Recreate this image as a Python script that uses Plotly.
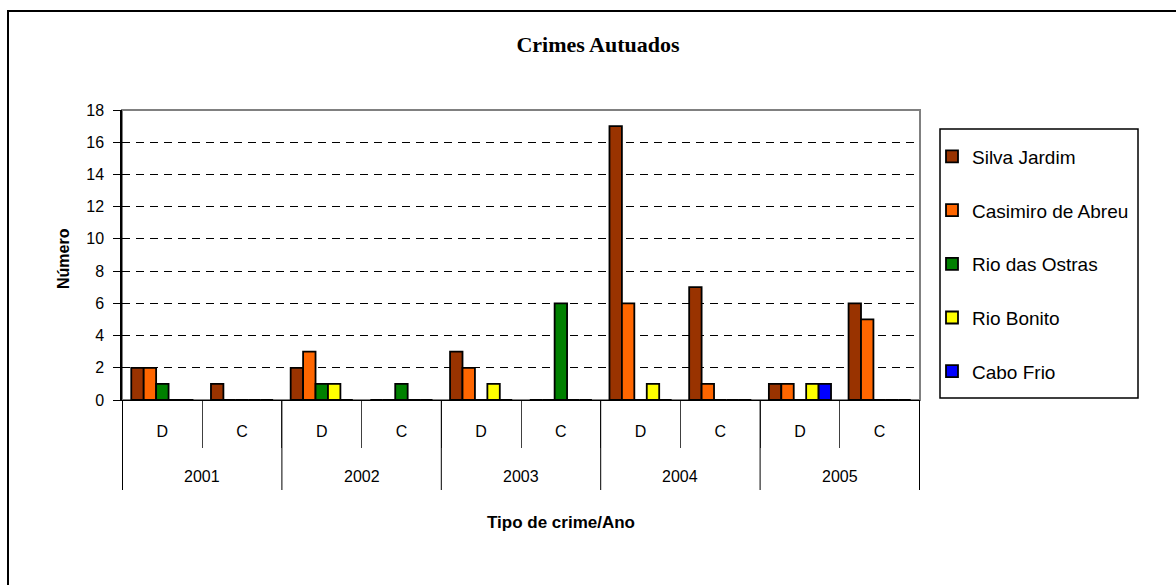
import plotly.graph_objects as go

# Category levels: year (outer) and crime type (inner)
years = ["2001", "2001", "2002", "2002", "2003", "2003", "2004", "2004", "2005", "2005"]
tipos = ["D", "C", "D", "C", "D", "C", "D", "C", "D", "C"]

# Counts per municipality, one value per (year, type) pair
silva_jardim = [2, 1, 2, 0, 3, 0, 17, 7, 1, 6]
casimiro_de_abreu = [2, 0, 3, 0, 2, 0, 6, 1, 1, 5]
rio_das_ostras = [1, 0, 1, 1, 0, 6, 0, 0, 0, 0]
rio_bonito = [0, 0, 1, 0, 1, 0, 1, 0, 1, 0]
cabo_frio = [0, 0, 0, 0, 0, 0, 0, 0, 1, 0]

series = [
    ("Silva Jardim", silva_jardim, "#993300"),
    ("Casimiro de Abreu", casimiro_de_abreu, "#FF6600"),
    ("Rio das Ostras", rio_das_ostras, "#008000"),
    ("Rio Bonito", rio_bonito, "#FFFF00"),
    ("Cabo Frio", cabo_frio, "#0000FF"),
]

y_ticks = list(range(0, 19, 2))

# One unique category key per (type, year) pair; the axis shows only the type
cat_keys = [f"{t} {y}" for t, y in zip(tipos, years)]

fig = go.Figure()
for name, vals, color in series:
    fig.add_trace(go.Bar(
        x=cat_keys,
        y=vals,
        name=name,
        legendgroup=name,
        marker=dict(color=color, line=dict(color="#000000", width=1.8)),
    ))

FONT = "Arial, Liberation Sans, sans-serif"

fig.update_layout(
    width=1176,
    height=585,
    margin=dict(l=122, r=256, t=110, b=185),
    paper_bgcolor="white",
    plot_bgcolor="white",
    barmode="group",
    bargap=0.22,
    bargroupgap=0,
    showlegend=True,
    legend=dict(
        x=(932 - 122) / 798, y=0.905, xanchor="left", yanchor="top",
        font=dict(family=FONT, size=19, color="#000000"),
        traceorder="grouped",
        tracegroupgap=26,
        bgcolor="rgba(0,0,0,0)",
        borderwidth=0,
    ),
    font=dict(family=FONT, color="#000000"),
    title=dict(
        text="<b>Crimes Autuados</b>",
        font=dict(family="Times New Roman, Liberation Serif, serif", size=22, color="#000000"),
        x=598 / 1176, xref="container", xanchor="center",
        y=1 - 44 / 585, yref="container", yanchor="middle",
    ),
)

fig.update_xaxes(
    type="category",
    categoryorder="array", categoryarray=cat_keys,
    tickmode="array", tickvals=cat_keys, ticktext=tipos,
    showline=True, linecolor="#000000", linewidth=1,
    ticks="outside", tickson="boundaries", ticklen=47, tickcolor="#404040", tickwidth=1,
    ticklabelstandoff=17,
    tickfont=dict(family=FONT, size=16, color="#000000"),
    showgrid=False,
)
fig.update_yaxes(
    range=[0, 18], tickvals=y_ticks,
    showline=True, linecolor="#000000", linewidth=1.5,
    ticks="outside", ticklen=7, tickcolor="#000000",
    ticklabelstandoff=6,
    tickfont=dict(family=FONT, size=16, color="#000000"),
    showgrid=True, gridcolor="#000000", gridwidth=1, griddash="8px,6px",
    zeroline=False,
)

# Year labels centred under each D/C pair, with dividers at the year boundaries
year_names = list(dict.fromkeys(years))
for i, yr in enumerate(year_names):
    idx = [k for k, v in enumerate(years) if v == yr]
    fig.add_annotation(text=yr, xref="x", yref="paper",
                       x=(idx[0] + idx[-1]) / 2, y=(400 - 476) / 290,
                       xanchor="center", yanchor="middle", showarrow=False,
                       font=dict(family=FONT, size=16, color="#000000"))
    for edge in ([idx[0] - 0.5] if i == 0 else []) + [idx[-1] + 0.5]:
        fig.add_shape(type="line", xref="x", yref="paper",
                      x0=edge, x1=edge, y0=0, y1=(400 - 490) / 290,
                      line=dict(color="#000000", width=1))

# Plot-area frame (gray top/right edges)
fig.add_shape(type="rect", xref="paper", yref="paper", x0=0, y0=0, x1=1, y1=1,
              line=dict(color="#808080", width=2), layer="below")
# Chart-area outer frame
fig.add_shape(type="rect", xref="paper", yref="paper",
              x0=(8 - 122) / 798, x1=(1190 - 122) / 798,
              y0=(400 - 600) / 290, y1=(400 - 11) / 290,
              line=dict(color="#000000", width=2))
# Legend box
fig.add_shape(type="rect", xref="paper", yref="paper",
              x0=(940 - 122) / 798, x1=(1138 - 122) / 798,
              y0=(400 - 398) / 290, y1=(400 - 129) / 290,
              line=dict(color="#000000", width=1.5))

# Axis titles
fig.add_annotation(text="<b>Número</b>", xref="paper", yref="paper",
                   x=(63 - 122) / 798, y=(400 - 259) / 290, textangle=-90,
                   xanchor="center", yanchor="middle",
                   showarrow=False, font=dict(family=FONT, size=16, color="#000000"))
fig.add_annotation(text="<b>Tipo de crime/Ano</b>", xref="paper", yref="paper",
                   x=(561 - 122) / 798, y=(400 - 522) / 290,
                   xanchor="center", yanchor="middle",
                   showarrow=False, font=dict(family=FONT, size=17, color="#000000"))

fig.write_html("out.html")
